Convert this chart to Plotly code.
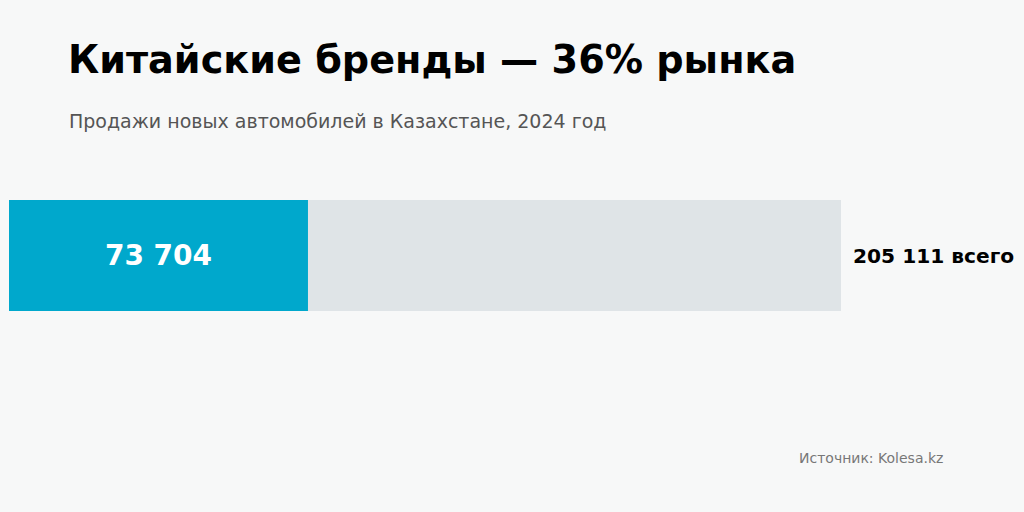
import plotly.graph_objects as go

title = "Китайские бренды — 36% рынка"
subtitle = "Продажи новых автомобилей в Казахстане, 2024 год"
source = "Источник: Kolesa.kz"
category = ["Рынок"]
total_sales = [205111]
chinese_sales = [73704]
total_label = "205 111 всего"
chinese_label = "73 704"

W, H = 1024, 512
L, R, T, B = 9, 183, 200, 201
pw, ph = W - L - R, H - T - B
BG = "#f7f8f8"

def px(x):
    return (x - L) / pw

def py(y):
    return (H - B - y) / ph

fig = go.Figure()
fig.add_trace(go.Bar(
    y=category, x=total_sales, orientation="h",
    marker=dict(color="#dfe4e7", line=dict(width=0)),
    width=1, hoverinfo="skip", showlegend=False,
))
fig.add_trace(go.Bar(
    y=category, x=chinese_sales, orientation="h",
    marker=dict(color="#00a8cc", line=dict(width=0)),
    width=1, hoverinfo="skip", showlegend=False,
    text=[chinese_label], textposition="inside", insidetextanchor="middle",
    textfont=dict(family="DejaVu Sans", size=28, color="white", weight="bold"),
))

fig.add_annotation(
    x=total_sales[0], y=category[0], xref="x", yref="y",
    text=f"<b>{total_label}</b>", showarrow=False, xanchor="left", xshift=10,
    font=dict(family="DejaVu Sans", size=20.2, color="#000000"),
)
fig.add_annotation(
    x=px(66), y=py(60), xref="paper", yref="paper",
    text=f"<b>{title}</b>", showarrow=False, xanchor="left", yanchor="middle",
    font=dict(family="DejaVu Sans", size=38.2, color="#000000"),
)
fig.add_annotation(
    x=px(67), y=py(121), xref="paper", yref="paper",
    text=subtitle, showarrow=False, xanchor="left", yanchor="middle",
    font=dict(family="DejaVu Sans", size=19, color="#555555"),
)
fig.add_annotation(
    x=px(945), y=py(458), xref="paper", yref="paper",
    text=source, showarrow=False, xanchor="right", yanchor="middle",
    font=dict(family="DejaVu Sans", size=14, color="#777777"),
)

fig.update_layout(
    width=W, height=H,
    margin=dict(l=L, r=R, t=T, b=B, pad=0),
    paper_bgcolor=BG, plot_bgcolor=BG,
    barmode="overlay",
    xaxis=dict(range=[0, total_sales[0]], visible=False, fixedrange=True),
    yaxis=dict(range=[-0.5, 0.5], visible=False, fixedrange=True),
    font=dict(family="DejaVu Sans"),
)
fig.write_html(
    "out.html",
    config={"displayModeBar": False},
    post_script=f"document.body.style.margin='0';document.body.style.background='{BG}';",
)
